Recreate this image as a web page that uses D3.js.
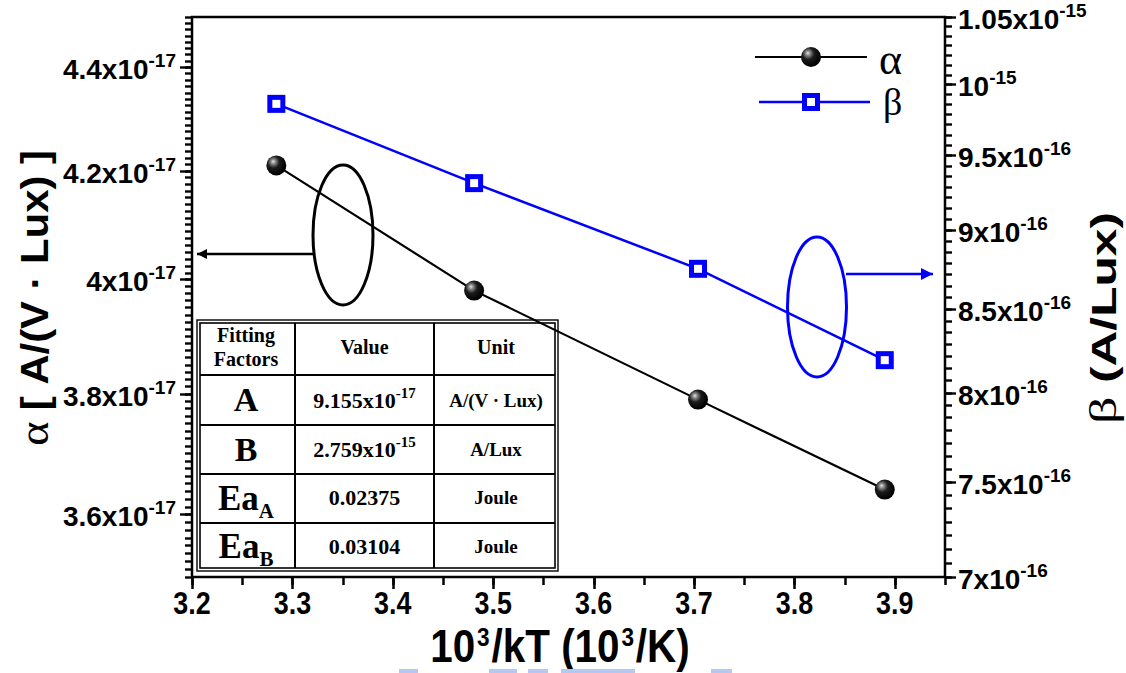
<!DOCTYPE html>
<html>
<head>
<meta charset="utf-8">
<script src="https://cdn.jsdelivr.net/npm/d3@7"></script>
<style>
  html, body { margin: 0; padding: 0; background: #fff; }
  svg { display: block; }
  .sans { font-family: "Liberation Sans", Arial, sans-serif; font-weight: bold; }
  .serif { font-family: "Liberation Serif", "Times New Roman", serif; }
</style>
</head>
<body>
<svg id="chart" width="1126" height="673"></svg>
<script>
// ---- data ----
const invT = [3.284, 3.481, 3.704, 3.890];                 // 10^3/kT
const alphaVals = [4.21e-17, 3.98e-17, 3.79e-17, 3.64e-17]; // α  [A/(V·Lux)]
const betaVals  = [9.86e-16, 9.31e-16, 8.75e-16, 8.19e-16]; // β  [A/Lux]

const xTicks = [3.2, 3.3, 3.4, 3.5, 3.6, 3.7, 3.8, 3.9];
const leftTicks = [3.6e-17, 3.8e-17, 4.0e-17, 4.2e-17, 4.4e-17];
const leftMantissa = ["3.6x10", "3.8x10", "4x10", "4.2x10", "4.4x10"];
const leftExponent = ["-17", "-17", "-17", "-17", "-17"];
const rightTicks = [7e-16, 7.5e-16, 8e-16, 8.5e-16, 9e-16, 9.5e-16, 1e-15, 1.05e-15];
const rightMantissa = ["7x10", "7.5x10", "8x10", "8.5x10", "9x10", "9.5x10", "10", "1.05x10"];
const rightExponent = ["-16", "-16", "-16", "-16", "-16", "-16", "-15", "-15"];

const tableHeader = [["Fitting", "Factors"], ["Value"], ["Unit"]];
const tableFactors = [["A", ""], ["B", ""], ["Ea", "A"], ["Ea", "B"]];
const tableValues = [["9.155x10", "-17"], ["2.759x10", "-15"], ["0.02375", ""], ["0.03104", ""]];
const tableUnits = ["A/(V \u00b7 Lux)", "A/Lux", "Joule", "Joule"];

// ---- layout ----
const L = 192, R = 945, T = 17, B = 577;
const BLUE = "#0000ff";

const svg = d3.select("#chart");
const defs = svg.append("defs");

const x = d3.scaleLinear().domain([3.2, 3.95]).range([L, R]);
const yA = d3.scaleLog().domain([3.5e-17, 4.5e-17]).range([B, T]);
const yB = d3.scaleLog().domain([7e-16, 1.05e-15]).range([B, T]);

// shaded ball marker
const grad = defs.append("radialGradient").attr("id", "ball")
  .attr("cx", "38%").attr("cy", "36%").attr("r", "62%")
  .attr("fx", "34%").attr("fy", "30%");
grad.append("stop").attr("offset", "0%").attr("stop-color", "#e6e6e6");
grad.append("stop").attr("offset", "18%").attr("stop-color", "#8c8c8c");
grad.append("stop").attr("offset", "48%").attr("stop-color", "#1c1c1c");
grad.append("stop").attr("offset", "100%").attr("stop-color", "#000");

// arrow heads
defs.append("marker").attr("id", "arrBlack").attr("viewBox", "0 0 10 10")
  .attr("refX", 10).attr("refY", 5).attr("markerWidth", 14).attr("markerHeight", 10)
  .attr("markerUnits", "userSpaceOnUse").attr("orient", "auto")
  .append("path").attr("d", "M0,0L10,5L0,10z").attr("fill", "#000");
defs.append("marker").attr("id", "arrBlue").attr("viewBox", "0 0 10 10")
  .attr("refX", 10).attr("refY", 5).attr("markerWidth", 20).attr("markerHeight", 12)
  .attr("markerUnits", "userSpaceOnUse").attr("orient", "auto")
  .append("path").attr("d", "M0,0L10,5L0,10z").attr("fill", BLUE);

// ---- ticks ----
function stepRange(lo, hi, step) {
  const n = Math.round((hi - lo) / step);
  return d3.range(n + 1).map(i => lo + i * step);
}
const axStroke = 2.5;
const tickG = svg.append("g").attr("stroke", "#000");

function hTicks(values, scale, x0, len) {
  tickG.append("g").selectAll("line").data(values).join("line")
    .attr("stroke-width", 2.4)
    .attr("x1", x0).attr("x2", x0 + len)
    .attr("y1", d => Math.round(scale(d)) + 0.5).attr("y2", d => Math.round(scale(d)) + 0.5);
}
function vTicks(values, scale, y0, len) {
  tickG.append("g").selectAll("line").data(values).join("line")
    .attr("stroke-width", 2.5)
    .attr("y1", y0).attr("y2", y0 + len)
    .attr("x1", d => Math.round(scale(d)) + 0.5).attr("x2", d => Math.round(scale(d)) + 0.5);
}
// bottom: majors every 0.1, minors every 0.05
vTicks(stepRange(3.2, 3.95, 0.05), x, B, 8);
vTicks(xTicks, x, B, 12);
// left (log)
hTicks(stepRange(3.5e-17, 4.5e-17, 0.2e-17 / 16).filter(v => v <= 4.5e-17 * (1 + 1e-9)), yA, L, -7);
hTicks(leftTicks, yA, L, -12);
// right (log)
hTicks(stepRange(7e-16, 1.05e-15, 0.5e-16 / 7).filter(v => v <= 1.05e-15 * (1 + 1e-9)), yB, R, 7);
hTicks(rightTicks, yB, R, 11);

// tick labels
svg.append("g").selectAll("text").data(xTicks).join("text")
  .attr("class", "sans").attr("font-size", 32)
  .attr("text-anchor", "middle")
  .attr("transform", d => `translate(${x(d)},${B + 37}) scale(0.84,1)`)
  .text(d => d.toFixed(1));

const lt = svg.append("g").selectAll("text").data(leftTicks).join("text")
  .attr("class", "sans").attr("text-anchor", "end")
  .attr("x", 176).attr("y", d => yA(d) + 12);
lt.append("tspan").attr("font-size", 28).text((d, i) => leftMantissa[i]);
lt.append("tspan").attr("font-size", 19).attr("dy", -12).text((d, i) => leftExponent[i]);

const rt = svg.append("g").selectAll("text").data(rightTicks).join("text")
  .attr("class", "sans").attr("text-anchor", "start")
  .attr("x", 958).attr("y", d => yB(d) + 12);
rt.append("tspan").attr("font-size", 28).text((d, i) => rightMantissa[i]);
rt.append("tspan").attr("font-size", 19).attr("dy", -12).text((d, i) => rightExponent[i]);

// ---- axis titles ----
const xt = svg.append("text").attr("class", "sans").attr("text-anchor", "middle")
  .attr("transform", "translate(560,662) scale(0.94,1.06)").attr("font-size", 43);
xt.append("tspan").text("10");
xt.append("tspan").attr("font-size", 24).attr("dy", -15).attr("dx", 2).text("3");
xt.append("tspan").attr("dy", 15).attr("dx", 2).text("/kT (10");
xt.append("tspan").attr("font-size", 24).attr("dy", -15).attr("dx", 2).text("3");
xt.append("tspan").attr("dy", 15).attr("dx", 2).text("/K)");

const ylt = svg.append("text").attr("text-anchor", "middle")
  .attr("transform", "translate(48,298) rotate(-90) scale(1.1,1)");
ylt.append("tspan").attr("class", "serif").attr("font-size", 42).text("\u03b1 ");
ylt.append("tspan").attr("class", "sans").attr("font-size", 38).text("[ A/(V \u00b7 Lux) ]");

const yrt = svg.append("text").attr("text-anchor", "middle")
  .attr("transform", "translate(1116,318) rotate(-90) scale(1.42,1)");
yrt.append("tspan").attr("class", "serif").attr("font-size", 38).text("\u03b2 ");
yrt.append("tspan").attr("class", "sans").attr("font-size", 35).text("(A/Lux)");

// ---- fitting table ----
const colX = [197, 295, 434, 558];
const rowY = [320, 375, 425, 474, 523, 571];
const tbl = svg.append("g");
tbl.append("rect").attr("x", colX[0]).attr("y", rowY[0])
  .attr("width", colX[3] - colX[0]).attr("height", rowY[5] - rowY[0])
  .attr("fill", "#fff").attr("stroke", "#000").attr("stroke-width", 1.4);
tbl.append("rect").attr("x", colX[0] + 3).attr("y", rowY[0] + 3)
  .attr("width", colX[3] - colX[0] - 6).attr("height", rowY[5] - rowY[0] - 6)
  .attr("fill", "none").attr("stroke", "#000").attr("stroke-width", 1.6);
tbl.selectAll("line.r").data(rowY.slice(1, 5)).join("line")
  .attr("x1", colX[0] + 3).attr("x2", colX[3] - 3).attr("y1", d => d).attr("y2", d => d)
  .attr("stroke", "#000").attr("stroke-width", 2);
tbl.selectAll("line.c").data(colX.slice(1, 3)).join("line")
  .attr("y1", rowY[0] + 3).attr("y2", rowY[5] - 3).attr("x1", d => d).attr("x2", d => d)
  .attr("stroke", "#000").attr("stroke-width", 2);

const cx = [(colX[0] + colX[1]) / 2, (colX[1] + colX[2]) / 2, (colX[2] + colX[3]) / 2];
function cell(xc, y, txt, size) {
  return tbl.append("text").attr("class", "serif").attr("font-weight", "bold").attr("font-size", size)
    .attr("text-anchor", "middle").attr("x", xc).attr("y", y).text(txt);
}
cell(cx[0], 342, tableHeader[0][0], 20);
cell(cx[0], 366, tableHeader[0][1], 20);
cell(cx[1], 354, tableHeader[1][0], 20);
cell(cx[2], 354, tableHeader[2][0], 20);

const factorBase = [411, 461, 510, 558];
const valueBase = [408, 457, 505, 554];
tableFactors.forEach((f, i) => {
  const t = tbl.append("text").attr("class", "serif").attr("font-weight", "bold")
    .attr("text-anchor", "middle").attr("x", cx[0]).attr("y", factorBase[i]);
  if (f[1]) {
    t.append("tspan").attr("font-size", 35).text(f[0]);
    t.append("tspan").attr("font-size", 21).attr("dy", 8).text(f[1]);
  } else {
    t.append("tspan").attr("font-size", 34).text(f[0]);
  }
});
tableValues.forEach((v, i) => {
  const t = tbl.append("text").attr("class", "serif").attr("font-weight", "bold")
    .attr("text-anchor", "middle").attr("x", cx[1]).attr("y", valueBase[i]);
  t.append("tspan").attr("font-size", 22).text(v[0]);
  if (v[1]) t.append("tspan").attr("font-size", 15).attr("dy", -10).text(v[1]);
});
tableUnits.forEach((u, i) => cell(cx[2], valueBase[i] - 1, u, 19));

// ---- series ----
const lineA = d3.line().x((d, i) => x(invT[i])).y(d => yA(d));
const lineB = d3.line().x((d, i) => x(invT[i])).y(d => yB(d));

svg.append("path").datum(betaVals).attr("d", lineB)
  .attr("fill", "none").attr("stroke", BLUE).attr("stroke-width", 2.5);
svg.append("path").datum(alphaVals).attr("d", lineA)
  .attr("fill", "none").attr("stroke", "#000").attr("stroke-width", 2.2);

svg.append("g").selectAll("circle").data(alphaVals).join("circle")
  .attr("cx", (d, i) => x(invT[i])).attr("cy", d => yA(d)).attr("r", 10)
  .attr("fill", "url(#ball)");
svg.append("g").selectAll("rect").data(betaVals).join("rect")
  .attr("x", (d, i) => x(invT[i]) - 6.5).attr("y", d => yB(d) - 6.5)
  .attr("width", 13).attr("height", 13)
  .attr("fill", "#fff").attr("stroke", BLUE).attr("stroke-width", 5);

// frame
svg.append("path")
  .attr("d", `M${L},${B}V${T}H${R}V${B}Z`)
  .attr("fill", "none").attr("stroke", "#000").attr("stroke-width", axStroke);

// ---- axis-assignment callouts ----
svg.append("ellipse").attr("cx", 343).attr("cy", 235).attr("rx", 30).attr("ry", 70)
  .attr("fill", "none").attr("stroke", "#000").attr("stroke-width", 3);
svg.append("line").attr("x1", 313).attr("y1", 254).attr("x2", 197).attr("y2", 254)
  .attr("stroke", "#000").attr("stroke-width", 2.5).attr("marker-end", "url(#arrBlack)");
svg.append("ellipse").attr("cx", 817).attr("cy", 307).attr("rx", 29.5).attr("ry", 70)
  .attr("fill", "none").attr("stroke", BLUE).attr("stroke-width", 3);
svg.append("line").attr("x1", 846).attr("y1", 274).attr("x2", 933).attr("y2", 274)
  .attr("stroke", BLUE).attr("stroke-width", 2.5).attr("marker-end", "url(#arrBlue)");

// ---- legend ----
const leg = svg.append("g");
leg.append("line").attr("x1", 755).attr("x2", 867).attr("y1", 57).attr("y2", 57)
  .attr("stroke", "#000").attr("stroke-width", 2.2);
leg.append("circle").attr("cx", 811).attr("cy", 57).attr("r", 10).attr("fill", "url(#ball)");
leg.append("text").attr("class", "serif").attr("font-size", 44)
  .attr("x", 879).attr("y", 74).text("\u03b1");
leg.append("line").attr("x1", 759).attr("x2", 870).attr("y1", 102).attr("y2", 102)
  .attr("stroke", BLUE).attr("stroke-width", 2.5);
leg.append("rect").attr("x", 811 - 6.5).attr("y", 102 - 6.5).attr("width", 13).attr("height", 13)
  .attr("fill", "#fff").attr("stroke", BLUE).attr("stroke-width", 5);
leg.append("text").attr("class", "serif").attr("font-size", 38)
  .attr("x", 883).attr("y", 115).text("\u03b2");

// faint highlight strip along the lower edge
const strip = [[399, 418], [489, 517], [528, 548], [561, 635], [711, 732]];
svg.append("g").selectAll("rect").data(strip).join("rect")
  .attr("x", d => d[0]).attr("width", d => d[1] - d[0])
  .attr("y", 669).attr("height", 4).attr("fill", "#b4c8f0");
</script>
</body>
</html>
